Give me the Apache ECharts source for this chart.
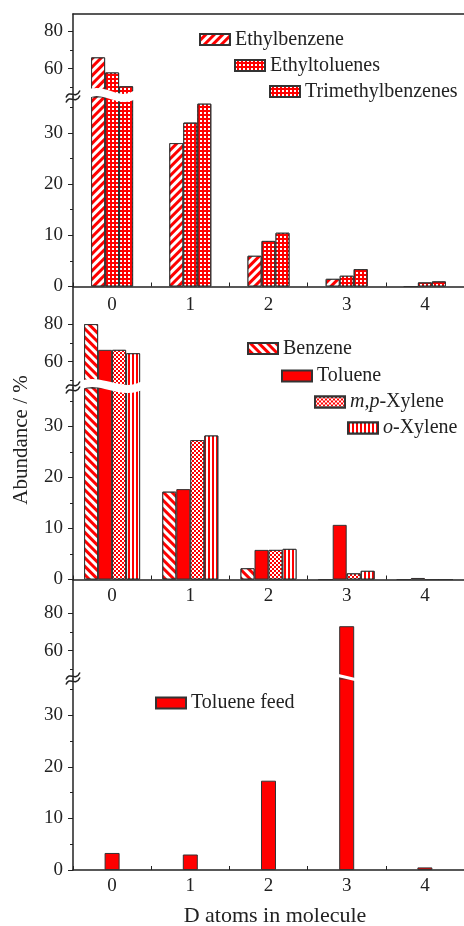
<!DOCTYPE html>
<html>
<head>
<meta charset="utf-8">
<script src="https://cdn.jsdelivr.net/npm/echarts@6/dist/echarts.min.js"></script>
<style>
  html, body { margin: 0; padding: 0; background: #fff; }
  #chart { width: 464px; height: 926px; }
</style>
</head>
<body>
<div id="chart"></div>
<script>
// D atoms in molecule
const categories = ['0', '1', '2', '3', '4'];

// top panel
const ethylbenzene = [66, 28, 6.0, 1.5, 0];
const ethyltoluenes = [58, 32, 8.9, 2.1, 0.8];
const trimethylbenzenes = [50.7, 35.7, 10.5, 3.4, 1.0];

// middle panel
const benzene = [80, 17.2, 2.2, 0, 0];
const toluene = [66.3, 17.7, 5.8, 10.7, 0.3];
const mpXylene = [66.3, 27.3, 5.8, 1.2, 0];
const oXylene = [64.5, 28.2, 6.0, 1.7, 0];

// bottom panel
const tolueneFeed = [3.3, 3.0, 17.3, 73, 0.5];

// tick values of the broken y axis
const upperLabels = [60, 80];
const upperMinor = [50, 70];
const lowerLabels = [0, 10, 20, 30];
const lowerMinor = [5, 15, 25, 35];

const FONT = '"Liberation Serif", "Times New Roman", serif';
const INK = '#222';
const RED = '#ff0000';

// each panel = upper grid (above the break) + lower grid (below it)
const panels = [
  { top: 14, brk: 97, bottom: 286.5, upper: [45, 89], lower: [0, 37] },
  { top: 286.5, brk: 388, bottom: 579.5, upper: [46, 100], lower: [0, 37.5] },
  { top: 580, brk: 679, bottom: 870, upper: [45, 97.5], lower: [0, 37] }
];

const patterns = {
  'Ethylbenzene': { color: RED, decal: { symbol: 'rect', color: '#fff', dashArrayX: [1, 0], dashArrayY: [2.2, 2.8], rotation: -Math.PI / 4 } },
  'Ethyltoluenes': { color: RED, decal: { symbol: 'rect', color: '#fff', dashArrayX: [1.3, 1.9], dashArrayY: [1.3, 1.9] } },
  'Trimethylbenzenes': { color: RED, decal: { symbol: 'rect', color: '#fff', dashArrayX: [2, 1.2], dashArrayY: [2, 1.2] } },
  'Benzene': { color: RED, decal: { symbol: 'rect', color: '#fff', dashArrayX: [1, 0], dashArrayY: [2.4, 2.6], rotation: Math.PI / 4 } },
  'Toluene': { color: RED, decal: null },
  'm,p-Xylene': { color: RED, decal: { symbol: 'rect', color: '#fff', dashArrayX: [[1.2, 1.2], [0, 1.2, 1.2, 0]], dashArrayY: [1.2, 0] } },
  'o-Xylene': { color: RED, decal: { symbol: 'rect', color: '#fff', dashArrayX: [1, 0], dashArrayY: [1.8, 1.6], rotation: Math.PI / 2 } },
  'Toluene feed': { color: RED, decal: null }
};

const grids = [];
const xAxes = [];
const yAxes = [];
const minorAxes = [];
const series = [];

panels.forEach((p, pi) => {
  const ui = pi * 2, li = pi * 2 + 1;
  grids.push({ left: 73, width: 392, top: p.top, height: p.brk - p.top });
  grids.push({ left: 73, width: 392, top: p.brk, height: p.bottom - p.brk });

  xAxes.push({
    gridIndex: ui, type: 'category', data: categories, position: 'top',
    show: pi === 0,
    axisLine: { show: true, lineStyle: { color: INK, width: 1.5 } },
    axisTick: { show: false }, axisLabel: { show: false }
  });
  xAxes.push({
    gridIndex: li, type: 'category', data: categories, position: 'bottom',
    axisLine: { show: true, lineStyle: { color: INK, width: 1.5 } },
    axisTick: { show: true, inside: true, length: 4, lineStyle: { color: INK } },
    axisLabel: { fontFamily: FONT, fontSize: 19, color: INK, margin: pi === 0 ? 9 : 7 }
  });

  [[ui, p.upper, upperLabels, upperMinor], [li, p.lower, lowerLabels, lowerMinor]].forEach(([gi, range, labels, minor]) => {
    yAxes.push({
      gridIndex: gi, type: 'value', min: range[0], max: range[1], position: 'left',
      axisLine: { show: true, lineStyle: { color: INK, width: 1.5 } },
      axisTick: { show: true, length: 5, customValues: labels, lineStyle: { color: INK } },
      axisLabel: { customValues: labels, fontFamily: FONT, fontSize: 19, color: INK, margin: 10 },
      splitLine: { show: false }
    });
    minorAxes.push({
      gridIndex: gi, type: 'value', min: range[0], max: range[1], position: 'left',
      axisLine: { show: false },
      axisTick: { show: true, length: 3, customValues: minor, lineStyle: { color: INK } },
      axisLabel: { show: false },
      splitLine: { show: false }
    });
  });
});

function addBars(name, data, pi, barWidth) {
  const st = patterns[name];
  [pi * 2, pi * 2 + 1].forEach(gi => {
    series.push({
      type: 'bar', name, data, xAxisIndex: gi, yAxisIndex: gi,
      barWidth, barGap: '0%', clip: true,
      itemStyle: { color: st.color, borderColor: '#333', borderWidth: 1, decal: st.decal || undefined }
    });
  });
}

addBars('Ethylbenzene', ethylbenzene, 0, 14);
addBars('Ethyltoluenes', ethyltoluenes, 0, 14);
addBars('Trimethylbenzenes', trimethylbenzenes, 0, 14);
addBars('Benzene', benzene, 1, 14);
addBars('Toluene', toluene, 1, 14);
addBars('m,p-Xylene', mpXylene, 1, 14);
addBars('o-Xylene', oXylene, 1, 14);
addBars('Toluene feed', tolueneFeed, 2, 15);

function legendAt(name, left, cy, formatter) {
  return {
    data: [name], left, top: cy - 10, padding: 0,
    itemWidth: 30, itemHeight: 11, icon: 'rect', selectedMode: false,
    formatter: formatter || '{name}',
    textStyle: {
      fontFamily: FONT, fontSize: 20, color: INK,
      rich: { i: { fontFamily: FONT, fontSize: 20, color: INK, fontStyle: 'italic' } }
    }
  };
}

const legends = [
  legendAt('Ethylbenzene', 199, 39.5),
  legendAt('Ethyltoluenes', 234, 65.5),
  legendAt('Trimethylbenzenes', 269, 91.5),
  legendAt('Benzene', 247, 348.5),
  legendAt('Toluene', 281, 376),
  legendAt('m,p-Xylene', 314, 402, '{i|m,p}-Xylene'),
  legendAt('o-Xylene', 347, 428, '{i|o}-Xylene'),
  legendAt('Toluene feed', 155, 703)
];

const chart = echarts.init(document.getElementById('chart'), null, { renderer: 'canvas' });
chart.setOption({
  animation: false,
  backgroundColor: '#fff',
  legend: legends,
  grid: grids,
  xAxis: xAxes,
  yAxis: yAxes.concat(minorAxes),
  series
});

// break marks: white cut through the bars that cross the break, and the ≈ on the axis
const graphics = [];
function cutThrough(pi, catIndex, nBars, barWidth, wavy) {
  const gi = pi * 2 + 1;
  const cx = chart.convertToPixel({ xAxisIndex: gi }, catIndex);
  const half = nBars * barWidth / 2 + 3;
  const y = panels[pi].brk;
  const x0 = cx - half, x1 = cx + half;
  if (wavy) {
    graphics.push({
      type: 'bezierCurve', z: 100,
      shape: { x1: x0, y1: y - 3, cpx1: x0 + (x1 - x0) / 3, cpy1: y - 11, cpx2: x0 + 2 * (x1 - x0) / 3, cpy2: y + 9, x2: x1, y2: y - 3 },
      style: { stroke: '#fff', lineWidth: 8, fill: null }
    });
  } else {
    graphics.push({
      type: 'line', z: 100,
      shape: { x1: x0, y1: y - 4, x2: x1, y2: y + 1 },
      style: { stroke: '#fff', lineWidth: 3 }
    });
  }
}
cutThrough(0, 0, 3, 14, true);
cutThrough(1, 0, 4, 14, true);
cutThrough(2, 3, 1, 15, false);

// axis break symbol drawn as two small waves
panels.forEach(p => {
  [-2.5, 2.5].forEach(dy => {
    graphics.push({
      type: 'bezierCurve', z: 101,
      shape: { x1: 66, y1: p.brk + dy + 3, cpx1: 70, cpy1: p.brk + dy - 6, cpx2: 75, cpy2: p.brk + dy + 6, x2: 80, y2: p.brk + dy - 4 },
      style: { stroke: INK, lineWidth: 1.6, fill: null }
    });
  });
});

graphics.push({
  type: 'text', z: 101, x: 21, y: 440, rotation: Math.PI / 2,
  style: { text: 'Abundance / %', font: '21px ' + FONT, fill: INK, align: 'center', verticalAlign: 'middle' }
});
graphics.push({
  type: 'text', z: 101, x: 275, y: 916,
  style: { text: 'D atoms in molecule', font: '22px ' + FONT, fill: INK, align: 'center', verticalAlign: 'middle' }
});

chart.setOption({ graphic: graphics });
</script>
</body>
</html>
